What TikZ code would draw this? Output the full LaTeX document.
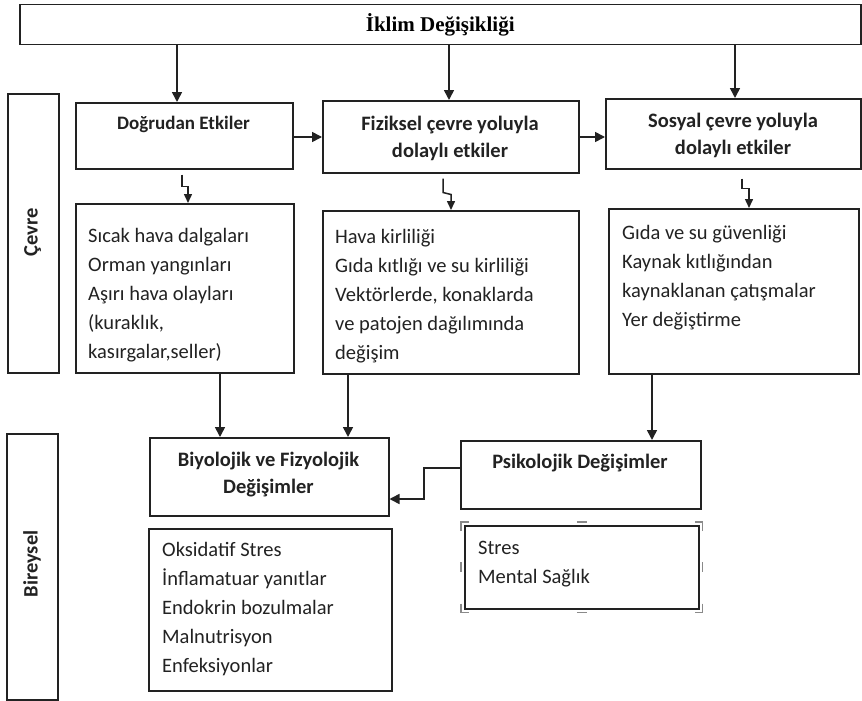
\documentclass[tikz,border=0pt]{standalone}
\usepackage{fontspec}
\setmainfont{Carlito}
\newfontfamily\tms{Liberation Serif}
\usetikzlibrary{arrows.meta,calc}
\definecolor{ink}{HTML}{222222}
\definecolor{handle}{HTML}{8A8A8A}
\begin{document}
\begin{tikzpicture}[x=1pt,y=-1pt,
  box/.style={draw=ink, line width=1.5pt, inner sep=0pt, anchor=north west},
  ttl/.style={font=\bfseries\fontsize{20.5}{27}\selectfont, align=center, anchor=north, inner sep=0pt, text=ink},
  lst/.style={font=\fontsize{20.5}{29}\selectfont, align=left, anchor=north west, inner sep=0pt, text=ink},
  side/.style={font=\bfseries\fontsize{20.5}{24}\selectfont, rotate=90, inner sep=0pt, text=ink},
  arr/.style={draw=ink, line width=1.6pt, -{Triangle[width=10pt,length=10pt]}},
  sarr/.style={draw=ink, line width=1.5pt, -{Triangle[width=8pt,length=9pt]}},
  hdl/.style={draw=handle, line width=1.3pt}]
\fill[white] (0,0) rectangle (862,701);
\useasboundingbox (0,0) rectangle (862,701);

% top box
\node[box, minimum width=841pt, minimum height=40pt, font=\tms\bfseries\fontsize{21}{24}\selectfont] (top) at (19,4) {\raisebox{-1.5pt}{İklim Değişikliği}};

% side boxes
\node[box, minimum width=51pt, minimum height=279pt] (cevre) at (7,93) {};
\node[side] (cevret) at (32.5,232) {Çevre};
\node[box, minimum width=51pt, minimum height=266pt] (bire) at (6,433) {};
\node[side] (biret) at (32,564) {Bireysel};

% first row
\node[box, minimum width=217pt, minimum height=66pt] (dog) at (75,102) {};
\node[ttl, font=\bfseries\fontsize{19}{27}\selectfont] (dogt) at (183.5,110.1) {\strut Doğrudan Etkiler};
\node[box, minimum width=256pt, minimum height=72pt] (fiz) at (322,100) {};
\node[ttl] (fizt) at (450,111.1) {\strut Fiziksel çevre yoluyla\\dolaylı etkiler};
\node[box, minimum width=255pt, minimum height=70pt] (sos) at (605,98) {};
\node[ttl] (sost) at (733,108.1) {\strut Sosyal çevre yoluyla\\dolaylı etkiler};

% second row
\node[box, minimum width=218pt, minimum height=169pt] (sicak) at (75,203) {};
\node[lst] (sicakt) at (88,221.7) {\strut Sıcak hava dalgaları\\Orman yangınları\\Aşırı hava olayları\\(kuraklık,\\kasırgalar,seller)};
\node[box, minimum width=256pt, minimum height=163pt] (hava) at (322,210) {};
\node[lst] (havat) at (335,222.7) {\strut Hava kirliliği\\Gıda kıtlığı ve su kirliliği\\Vektörlerde, konaklarda\\ve patojen dağılımında\\değişim};
\node[box, minimum width=250pt, minimum height=165pt] (gida) at (608,208) {};
\node[lst] (gidat) at (622,218.7) {\strut Gıda ve su güvenliği\\Kaynak kıtlığından\\kaynaklanan çatışmalar\\Yer değiştirme};

% individual level
\node[box, minimum width=239pt, minimum height=78pt] (bio) at (149,437) {};
\node[ttl] (biot) at (268.5,447.1) {\strut Biyolojik ve Fizyolojik\\Değişimler};
\node[box, minimum width=243pt, minimum height=162pt] (oks) at (148,528) {};
\node[lst] (okst) at (162,535.7) {\strut Oksidatif Stres\\İnflamatuar yanıtlar\\Endokrin bozulmalar\\Malnutrisyon\\Enfeksiyonlar};
\node[box, minimum width=240pt, minimum height=68pt] (psi) at (460,440) {};
\node[ttl] (psit) at (580,449.1) {\strut Psikolojik Değişimler};
\node[box, minimum width=234pt, minimum height=83pt] (stres) at (464,525) {};
\node[lst] (strest) at (478,533.7) {\strut Stres\\Mental Sağlık};

% selection handles around the Stres box
\draw[hdl] ([shift={(-3,6)}]stres.north west) -- ++(0,-9) -- ++(8,0);
\draw[hdl] ([shift={(3,6)}]stres.north east) -- ++(0,-9) -- ++(-8,0);
\draw[hdl] ([shift={(-3,-6)}]stres.south west) -- ++(0,9) -- ++(8,0);
\draw[hdl] ([shift={(3,-6)}]stres.south east) -- ++(0,9) -- ++(-8,0);
\draw[hdl] ([shift={(-5,-3)}]stres.north) -- ++(10,0);
\draw[hdl] ([shift={(-5,3)}]stres.south) -- ++(10,0);
\draw[hdl] ([shift={(-3,-5)}]stres.west) -- ++(0,10);
\draw[hdl] ([shift={(3,-5)}]stres.east) -- ++(0,10);

% connectors
\draw[arr] (177,0 |- top.south) -- (177,0 |- dog.north);
\draw[arr] (449,0 |- top.south) -- (449,0 |- fiz.north);
\draw[arr] (735,0 |- top.south) -- (735,0 |- sos.north);
\draw[arr] (dog.east |- 0,137) -- (fiz.west |- 0,137);
\draw[arr] (fiz.east |- 0,137) -- (sos.west |- 0,137);

\draw[sarr] ($(182,0 |- dog.south)+(0,5)$) -- ++(0,12) -- ++(6,0) -- (188,0 |- sicak.north);
\draw[sarr] ($(443,0 |- fiz.south)+(0,5)$) -- ++(0,14) -- ++(8,2) -- (451,0 |- hava.north);
\draw[sarr] ($(742,0 |- sos.south)+(0,9)$) -- ++(0,10) -- ++(7,0) -- (749,0 |- gida.north);

\draw[arr] (220,0 |- sicak.south) -- (220,0 |- bio.north);
\draw[arr] (348,0 |- hava.south) -- (348,0 |- bio.north);
\draw[arr] (652,0 |- gida.south) -- (652,0 |- psi.north);
\draw[arr] (psi.west |- 0,468) -- (424,468) -- (424,499) -- (bio.east |- 0,499);
\end{tikzpicture}
\end{document}
